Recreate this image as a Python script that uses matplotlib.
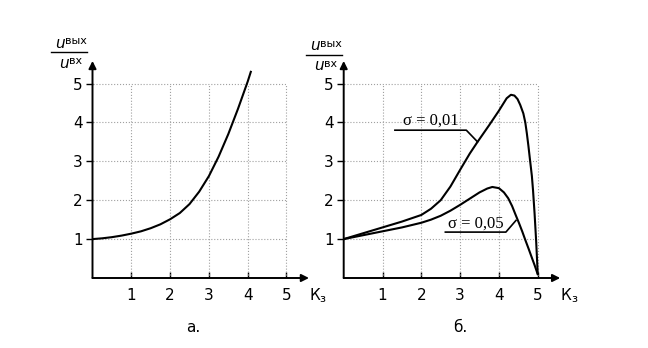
import matplotlib
matplotlib.use('Agg')
import matplotlib.pyplot as plt

# curve (а): Uвых/Uвх vs Kз
kz_a = [0, 0.25, 0.5, 0.75, 1.0, 1.25, 1.5, 1.75, 2.0, 2.25, 2.5, 2.75, 3.0, 3.25, 3.5, 3.75, 4.0, 4.08]
u_a = [1.0, 1.02, 1.05, 1.09, 1.14, 1.2, 1.28, 1.38, 1.51, 1.67, 1.9, 2.22, 2.62, 3.12, 3.7, 4.35, 5.05, 5.3]

# curves (б)
kz_01 = [0, 0.5, 1, 1.5, 2, 2.25, 2.5, 2.75, 3.0, 3.25, 3.45, 3.75, 4.0, 4.1, 4.2, 4.31, 4.4, 4.48,
         4.55, 4.63, 4.68, 4.72, 4.76, 4.8, 4.85, 4.88, 4.92, 4.96, 5.0]
u_01 = [1, 1.15, 1.3, 1.45, 1.62, 1.78, 2.0, 2.35, 2.78, 3.2, 3.5, 3.93, 4.3, 4.46, 4.62, 4.71, 4.69, 4.6,
        4.45, 4.23, 4.0, 3.72, 3.4, 3.05, 2.62, 2.25, 1.65, 0.95, 0.12]
kz_05 = [0, 0.5, 1, 1.5, 2, 2.25, 2.5, 2.75, 3.0, 3.25, 3.5, 3.7, 3.83, 4.0, 4.13, 4.24, 4.34, 4.42, 4.51,
         4.6, 4.68, 4.77, 4.85, 4.92, 5.0]
u_05 = [1, 1.1, 1.2, 1.3, 1.42, 1.5, 1.6, 1.73, 1.88, 2.04, 2.2, 2.3, 2.34, 2.31, 2.2, 2.05, 1.85, 1.65, 1.43,
        1.2, 0.98, 0.74, 0.52, 0.33, 0.1]

ticks = [1, 2, 3, 4, 5]
W, H = 648, 348

fig = plt.figure(figsize=(6.48, 3.48), dpi=100)


def make_axes(x0, caption, cap_x, frac_x, frac_y):
    ax = fig.add_axes([x0 / W, 70 / H, 5.6 * 38.8 / W, 5.6 * 38.9 / H])
    ax.set_xlim(0, 5.6)
    ax.set_ylim(0, 5.6)
    for s in ax.spines.values():
        s.set_visible(False)
    # dotted grid up to 5
    for v in ticks:
        ax.plot([v, v], [0, 5], ls=':', color='#a0a0a0', lw=0.8)
        ax.plot([0, 5], [v, v], ls=':', color='#a0a0a0', lw=0.8)
    # arrow axes
    ax.annotate('', xy=(5.58, 0), xytext=(0, 0),
                arrowprops=dict(arrowstyle='-|>', lw=1.4, color='black', mutation_scale=11,
                                shrinkA=0, shrinkB=0), annotation_clip=False)
    ax.annotate('', xy=(0, 5.58), xytext=(0, 0),
                arrowprops=dict(arrowstyle='-|>', lw=1.4, color='black', mutation_scale=11,
                                shrinkA=0, shrinkB=0), annotation_clip=False)
    ax.set_xticks(ticks)
    ax.set_yticks(ticks)
    ax.set_xticklabels([str(t) for t in ticks], fontsize=11)
    ax.set_yticklabels([str(t) for t in ticks], fontsize=11)
    ax.tick_params(axis='x', direction='in', length=4, width=1, pad=7)
    ax.tick_params(axis='y', direction='out', length=5, width=1, pad=2)
    # x label Kз
    ax.text(5.72, -0.45, 'К', fontsize=11, ha='center', va='center', clip_on=False)
    ax.text(5.93, -0.55, 'з', fontsize=8, ha='center', va='center', clip_on=False)
    # y label fraction
    fig.text((frac_x - 4) / W, 1 - (frac_y - 9) / H, 'u', fontsize=11, style='italic', ha='right', va='center')
    fig.text((frac_x - 4) / W, 1 - (frac_y - 11) / H, 'вых', fontsize=8, ha='left', va='center')
    fig.lines.append(plt.Line2D([(frac_x - 18) / W, (frac_x + 18) / W], [1 - frac_y / H, 1 - frac_y / H],
                                color='black', lw=1, transform=fig.transFigure))
    fig.text(frac_x / W, 1 - (frac_y + 11) / H, 'u', fontsize=11, style='italic', ha='right', va='center')
    fig.text(frac_x / W, 1 - (frac_y + 9) / H, 'вх', fontsize=8, ha='left', va='center')
    fig.text(cap_x / W, 1 - 327 / H, caption, fontsize=11, ha='center', va='center')
    return ax


ax1 = make_axes(92.5, 'а.', 193, 69, 52)
ax1.plot(kz_a, u_a, color='black', lw=1.5)

ax2 = make_axes(343.7, 'б.', 460, 324, 55)
ax2.plot(kz_01, u_01, color='black', lw=1.5)
ax2.plot(kz_05, u_05, color='black', lw=1.5)

# labels with leader lines
ax2.plot([1.32, 3.16, 3.45], [3.8, 3.8, 3.5], color='black', lw=1.2)
ax2.text(2.24, 3.85, 'σ = 0,01', family='Liberation Serif', fontsize=12, ha='center', va='bottom')
ax2.plot([2.62, 4.18, 4.44], [1.18, 1.18, 1.48], color='black', lw=1.2)
ax2.text(3.4, 1.2, 'σ = 0,05', family='Liberation Serif', fontsize=12, ha='center', va='bottom')

fig.savefig('out.png', dpi=100)
